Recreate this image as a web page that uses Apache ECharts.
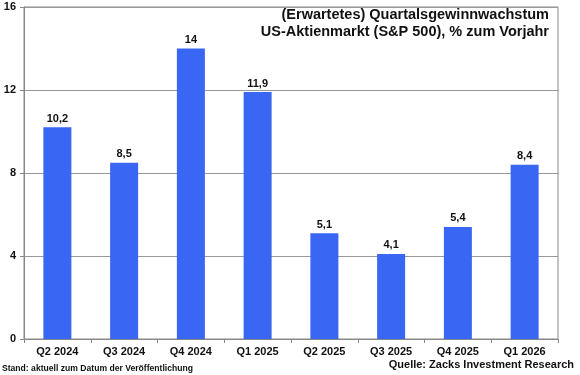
<!DOCTYPE html>
<html><head><meta charset="utf-8">
<script src="https://cdn.jsdelivr.net/npm/echarts@6/dist/echarts.min.js"></script>
<style>html,body{margin:0;padding:0;background:#fff}#c{width:580px;height:375px}</style>
</head><body><div id="c"></div>
<script>
const categories = ['Q2 2024','Q3 2024','Q4 2024','Q1 2025','Q2 2025','Q3 2025','Q4 2025','Q1 2026'];
const values = [10.2, 8.5, 14, 11.9, 5.1, 4.1, 5.4, 8.4];
const yTicks = [0, 4, 8, 12, 16];
const titleLines = ['(Erwartetes) Quartalsgewinnwachstum', 'US-Aktienmarkt (S&P 500), % zum Vorjahr'];
const noteText = 'Stand: aktuell zum Datum der Veröffentlichung';
const sourceText = 'Quelle: Zacks Investment Research';

const chart = echarts.init(document.getElementById('c'));
const F = 'Arial, "Liberation Sans", sans-serif';
chart.setOption({
  animation: false,
  grid: {left: 24, right: 22, top: 7, bottom: 36, show: true, borderColor: '#888', borderWidth: 1},
  graphic: [
    {type: 'text', x: 549, y: 7, style: {text: titleLines[0], font: 'bold 14.5px ' + F, fill: '#111', textAlign: 'right', textVerticalAlign: 'top'}},
    {type: 'text', x: 549, y: 24, style: {text: titleLines[1], font: 'bold 14.5px ' + F, fill: '#111', textAlign: 'right', textVerticalAlign: 'top'}},
    {type: 'text', x: 2, y: 364, style: {text: noteText, font: 'bold 8.6px ' + F, fill: '#111', textVerticalAlign: 'top'}},
    {type: 'text', x: 574, y: 359, style: {text: sourceText, font: 'bold 11px ' + F, fill: '#111', textAlign: 'right', textVerticalAlign: 'top'}}
  ],
  xAxis: {
    type: 'category', data: categories,
    axisLine: {lineStyle: {color: '#888'}},
    axisTick: {show: true, length: 4, lineStyle: {color: '#888'}},
    axisLabel: {fontFamily: F, fontSize: 11, fontWeight: 'bold', color: '#111', margin: 7}
  },
  yAxis: {
    type: 'value', min: 0, max: 16, interval: 4,
    axisLine: {show: true, lineStyle: {color: '#888'}},
    axisTick: {show: true, length: 4, lineStyle: {color: '#888'}},
    splitLine: {lineStyle: {color: '#999'}},
    axisLabel: {fontFamily: F, fontSize: 11, fontWeight: 'bold', color: '#111', margin: 8,
      formatter: v => yTicks.includes(v) ? String(v) : ''}
  },
  series: [{
    type: 'bar', data: values, barWidth: 28,
    itemStyle: {color: '#3A66F4'},
    label: {show: true, position: 'top', distance: 3, fontFamily: F, fontSize: 11, fontWeight: 'bold', color: '#111',
      formatter: p => String(p.value).replace('.', ',')}
  }]
});
</script></body></html>
